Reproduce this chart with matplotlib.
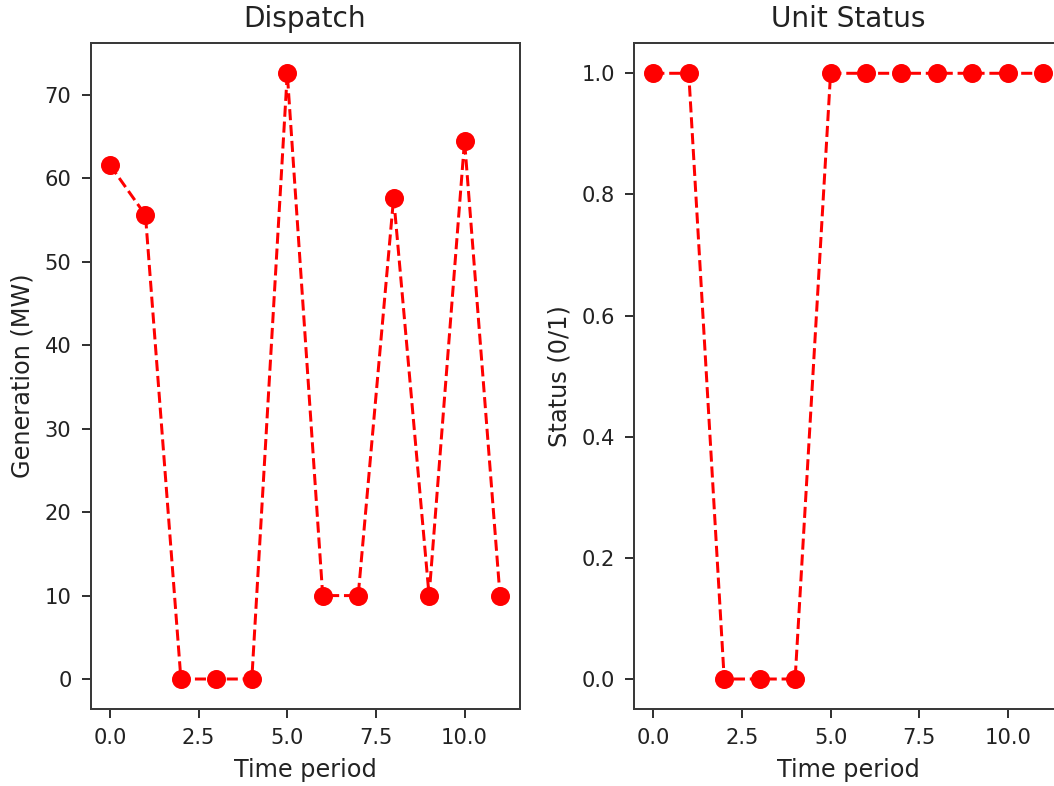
import matplotlib
matplotlib.use("Agg")
import matplotlib.pyplot as plt
from matplotlib.ticker import MultipleLocator, FormatStrFormatter

# Data
periods = [float(t) for t in range(12)]
generation = [61.6, 55.6, 0, 0, 0, 72.6, 10, 10, 57.7, 10, 64.5, 10]
status = [1, 1, 0, 0, 0, 1, 1, 1, 1, 1, 1, 1]

W, H, DPI = 1054, 786, 144
plt.rcParams['text.color'] = '#222222'
plt.rcParams['axes.labelcolor'] = '#222222'
plt.rcParams['xtick.color'] = '#333333'
plt.rcParams['ytick.color'] = '#333333'
plt.rcParams['xtick.labelcolor'] = '#222222'
plt.rcParams['ytick.labelcolor'] = '#222222'
plt.rcParams['axes.edgecolor'] = '#3a3a3a'
plt.rcParams['axes.linewidth'] = 1.0

fig = plt.figure(figsize=(W / DPI, H / DPI), dpi=DPI)

# axes placed in pixel terms (right panel runs past the image edge, as in the reference)
ax1 = fig.add_axes([90.5 / W, (H - 709.3) / H, 429 / W, 666.3 / H])
ax2 = fig.add_axes([633.8 / W, (H - 709.3) / H, 429 / W, 666.3 / H])

panels = [
    (ax1, generation, "Dispatch", "Generation (MW)"),
    (ax2, status, "Unit Status", "Status (0/1)"),
]
for ax, values, title, ylabel in panels:
    ax.plot(periods, values, 'r--o', markersize=8.5)
    ax.set_title(title, fontsize=14, pad=8)
    ax.set_xlabel("Time period", fontsize=12, labelpad=5)
    ax.set_ylabel(ylabel, fontsize=12, labelpad=5)
    ax.xaxis.set_major_locator(MultipleLocator(2.5))
    ax.xaxis.set_major_formatter(FormatStrFormatter('%.1f'))
    ax.tick_params(labelsize=10.5, length=4.5, width=1.0, pad=5)

fig.savefig("out.png", dpi=DPI)
